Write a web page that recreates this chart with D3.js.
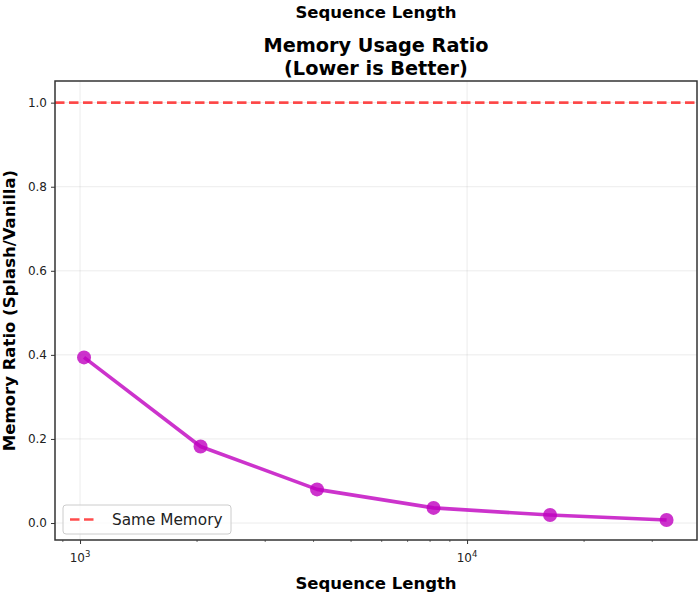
<!DOCTYPE html>
<html><head><meta charset="utf-8">
<script src="https://cdn.jsdelivr.net/npm/d3@7"></script>
<style>body{margin:0;background:#fff;}svg{font-family:"DejaVu Sans",sans-serif;}</style>
</head><body>
<svg id="c" width="700" height="595"></svg>
<script>
const seqLengths = [1024, 2048, 4096, 8192, 16384, 32768];
const memoryRatio = [0.394, 0.182, 0.080, 0.036, 0.019, 0.007];
const yTicks = [0.0, 0.2, 0.4, 0.6, 0.8, 1.0];
const xMajorTicks = [1000, 10000];
const xMinorTicks = [900, 2000, 3000, 4000, 5000, 6000, 7000, 8000, 9000, 20000, 30000];
const refLine = 1.0;
const legendLabel = "Same Memory";

const svg = d3.select("#c");
const L = 55, R = 697, T = 81, B = 540;
const x = d3.scaleLog().domain([861.6, 39270]).range([L, R]);
const y = d3.scaleLinear().domain([-0.0404, 1.0515]).range([B, T]);

// titles
svg.append("text").attr("x", 376).attr("y", 18).attr("text-anchor", "middle")
  .attr("font-size", 16.5).attr("font-weight", "bold").text("Sequence Length");
svg.append("text").attr("x", 376).attr("y", 52).attr("text-anchor", "middle")
  .attr("font-size", 19.3).attr("font-weight", "bold").text("Memory Usage Ratio");
svg.append("text").attr("x", 376).attr("y", 75).attr("text-anchor", "middle")
  .attr("font-size", 19.3).attr("font-weight", "bold").text("(Lower is Better)");

// grid
const g = svg.append("g");
g.selectAll(".gy").data(yTicks).enter().append("line")
  .attr("x1", L).attr("x2", R).attr("y1", d => y(d)).attr("y2", d => y(d))
  .attr("stroke", "#b0b0b0").attr("stroke-opacity", 0.3).attr("stroke-width", 0.8);
g.selectAll(".gx").data(xMajorTicks).enter().append("line")
  .attr("y1", T).attr("y2", B).attr("x1", d => x(d)).attr("x2", d => x(d))
  .attr("stroke", "#b0b0b0").attr("stroke-opacity", 0.3).attr("stroke-width", 0.8);

// reference line
svg.append("line").attr("x1", L).attr("x2", R).attr("y1", y(refLine)).attr("y2", y(refLine))
  .attr("stroke", "#ff0000").attr("stroke-opacity", 0.7).attr("stroke-width", 2.7)
  .attr("stroke-dasharray", "9.5,4.5");

// data line
const pts = seqLengths.map((s, i) => [s, memoryRatio[i]]);
svg.append("path").datum(pts)
  .attr("d", d3.line().x(d => x(d[0])).y(d => y(d[1])))
  .attr("fill", "none").attr("stroke", "#bf00bf").attr("stroke-opacity", 0.8)
  .attr("stroke-width", 3.6).attr("stroke-linejoin", "round");
svg.selectAll(".pt").data(pts).enter().append("circle")
  .attr("cx", d => x(d[0])).attr("cy", d => y(d[1])).attr("r", 7)
  .attr("fill", "#bf00bf").attr("fill-opacity", 0.8);

// axes
const yAxis = d3.axisLeft(y).tickValues(yTicks).tickFormat(d3.format(".1f")).tickSize(4).tickPadding(4);
const ya = svg.append("g").attr("transform", `translate(${L},0)`).call(yAxis);
ya.select(".domain").remove();
ya.selectAll("text").attr("font-size", 12).attr("fill", "#222").attr("font-family", "DejaVu Sans");
ya.selectAll("line").attr("stroke", "#333");

const xAxis = d3.axisBottom(x).tickValues(xMajorTicks).tickFormat("").tickSize(4);
const xa = svg.append("g").attr("transform", `translate(0,${B})`).call(xAxis);
xa.select(".domain").remove();
xa.selectAll("line").attr("stroke", "#333");
const xm = svg.append("g").attr("transform", `translate(0,${B})`)
  .call(d3.axisBottom(x).tickValues(xMinorTicks).tickFormat("").tickSize(2));
xm.select(".domain").remove();
xm.selectAll("line").attr("stroke", "#333").attr("stroke-width", 0.7);

xMajorTicks.forEach(v => {
  const t = svg.append("text").attr("x", x(v)).attr("y", B + 22).attr("text-anchor", "middle")
    .attr("font-size", 12).attr("fill", "#222");
  t.append("tspan").text("10");
  t.append("tspan").attr("dy", -5).attr("font-size", 8.5).text(String(Math.round(Math.log10(v))));
});

// frame
svg.append("rect").attr("x", L).attr("y", T).attr("width", R - L).attr("height", B - T)
  .attr("fill", "none").attr("stroke", "#333").attr("stroke-width", 1.5);

// axis labels
svg.append("text").attr("x", 376).attr("y", 589).attr("text-anchor", "middle")
  .attr("font-size", 16.5).attr("font-weight", "bold").text("Sequence Length");
svg.append("text").attr("transform", `translate(15,${(T + B) / 2}) rotate(-90)`)
  .attr("text-anchor", "middle").attr("font-size", 16.5).attr("font-weight", "bold")
  .text("Memory Ratio (Splash/Vanilla)");

// legend
const lg = svg.append("g").attr("transform", "translate(63,505)");
lg.append("rect").attr("width", 168).attr("height", 29).attr("rx", 3)
  .attr("fill", "#fff").attr("fill-opacity", 0.8).attr("stroke", "#ccc").attr("stroke-width", 1);
lg.append("line").attr("x1", 7).attr("x2", 35).attr("y1", 14.5).attr("y2", 14.5)
  .attr("stroke", "#ff0000").attr("stroke-opacity", 0.7).attr("stroke-width", 2.7)
  .attr("stroke-dasharray", "9.5,4.5");
lg.append("text").attr("x", 49).attr("y", 20).attr("font-size", 15.3).attr("fill", "#222").text(legendLabel);
</script>
</body></html>
